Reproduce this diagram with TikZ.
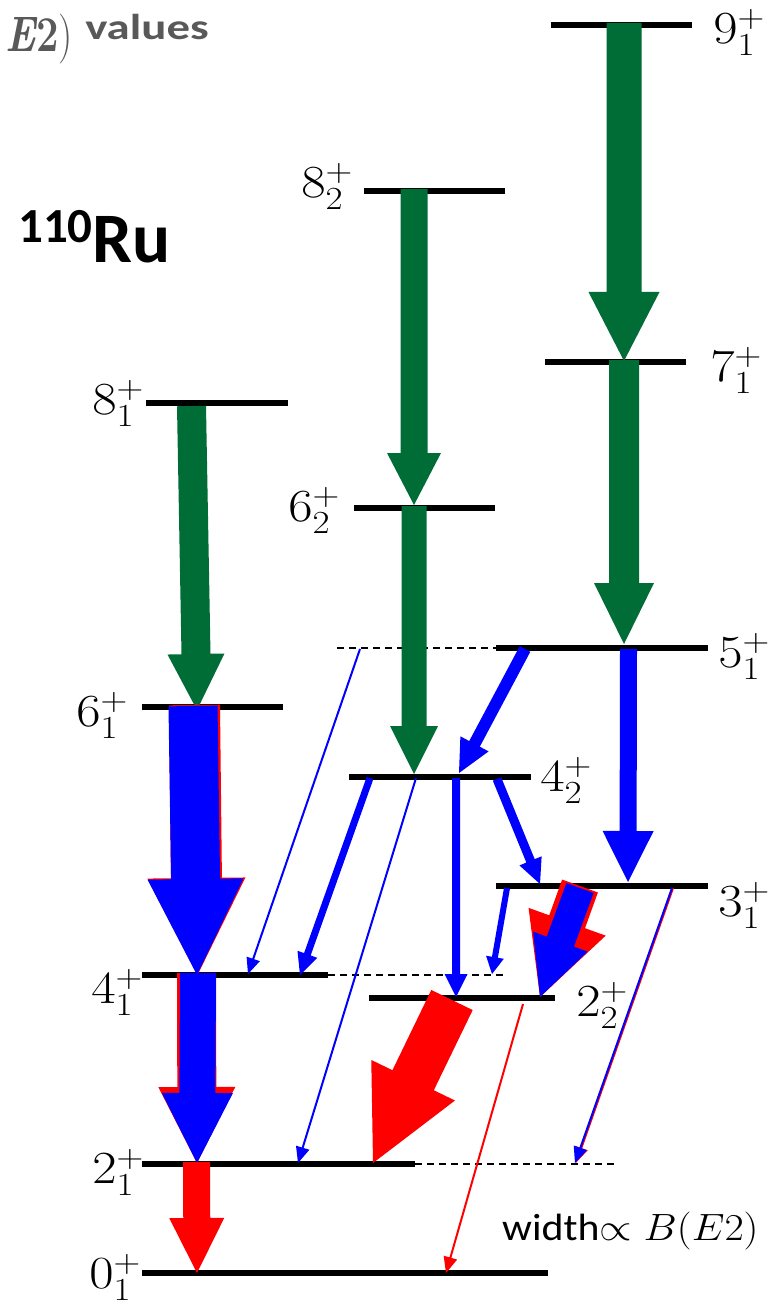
\RequirePackage{fix-cm}
\documentclass[tikz,border=0pt]{standalone}
\usepackage{fontspec}
\newfontfamily\carl{Carlito}
\usetikzlibrary{calc}
\definecolor{dgreen}{RGB}{0,108,54}
\definecolor{tgray}{RGB}{89,89,89}
% #1 colour, #2 start, #3 tip, #4 half shaft width, #5 half head width, #6 head length
\newcommand\fatarr[6]{%
  \coordinate (fam) at ($(#3)!#6pt!(#2)$);
  \fill[#1] ($(#2)!#4pt!90:(#3)$) -- ($(fam)!#4pt!90:(#3)$) -- ($(fam)!#5pt!90:(#3)$) -- (#3)
    -- ($(fam)!#5pt!-90:(#3)$) -- ($(fam)!#4pt!-90:(#3)$) -- ($(#2)!#4pt!-90:(#3)$) -- cycle;}
\begin{document}
\begin{tikzpicture}[x=1pt,y=-1pt,
  lev/.style={line width=5.5pt},
  dsh/.style={line width=1.3pt, dash pattern=on 7pt off 5pt},
  lbl/.style={font=\fontsize{46}{50}\selectfont, inner sep=0pt, xscale=1.15}]
\useasboundingbox (0,0) rectangle (772,1305);
\fill[white] (0,0) rectangle (772,1305);

% level end points
\coordinate (L9a) at (551,25);   \coordinate (L9b) at (692,25);
\coordinate (L7a) at (545,362);  \coordinate (L7b) at (686,362);
\coordinate (L82a) at (364,191); \coordinate (L82b) at (505,191);
\coordinate (L62a) at (354,508); \coordinate (L62b) at (495,508);
\coordinate (L81a) at (146,403); \coordinate (L81b) at (288,403);
\coordinate (L61a) at (142,707); \coordinate (L61b) at (283,707);
\coordinate (L5d) at (337,648);  \coordinate (L5a) at (496,648); \coordinate (L5b) at (708,648);
\coordinate (L42a) at (349,777); \coordinate (L42b) at (531,777);
\coordinate (L3a) at (496,886);  \coordinate (L3b) at (708,886);
\coordinate (L41a) at (142,975); \coordinate (L41b) at (328,975); \coordinate (L41d) at (505,975);
\coordinate (L22a) at (369,998); \coordinate (L22b) at (555,998);
\coordinate (L21a) at (142,1164); \coordinate (L21b) at (415,1164); \coordinate (L21d) at (617,1164);
\coordinate (L0a) at (142,1273); \coordinate (L0b) at (548,1273);

\foreach \l in {9,7,82,62,81,61,5,42,3,41,22,21,0}
  \draw[lev] (L\l a) -- (L\l b);
\draw[dsh] (L5d) -- (L5a);
\draw[dsh] (L41b) -- (L41d);
\draw[dsh] (L21b) -- (L21d);

% arrow end points
\coordinate (g1s) at (624,23);    \coordinate (g1t) at (624,361);
\coordinate (g2s) at (624,360);   \coordinate (g2t) at (624,644);
\coordinate (g3s) at (414,189);   \coordinate (g3t) at (414,505);
\coordinate (g4s) at (414,506);   \coordinate (g4t) at (414,774);
\coordinate (g5s) at (191.5,406); \coordinate (g5t) at (197,710);
\coordinate (r6s) at (194.5,705); \coordinate (r6t) at (197.5,975);
\coordinate (b6s) at (193,706);   \coordinate (b6t) at (197,975);
\coordinate (r7s) at (196.5,973); \coordinate (r7t) at (197,1163);
\coordinate (b7s) at (198,973);   \coordinate (b7t) at (197,1163);
\coordinate (r8s) at (196.5,1162);\coordinate (r8t) at (197,1273);
\coordinate (b9s) at (360,649);   \coordinate (b9t) at (248,974);
\coordinate (b10s) at (370,778);  \coordinate (b10t) at (300,975);
\coordinate (b11s) at (416,778);  \coordinate (b11t) at (298,1163);
\coordinate (b12s) at (456,778);  \coordinate (b12t) at (456,997);
\coordinate (b13s) at (497,779);  \coordinate (b13t) at (540,884);
\coordinate (b14s) at (525,649);  \coordinate (b14t) at (459,773);
\coordinate (b15s) at (628.5,649);\coordinate (b15t) at (628,882);
\coordinate (b16s) at (507,888);  \coordinate (b16t) at (492,974);
\coordinate (r17s) at (452,1000); \coordinate (r17t) at (373,1163);
\coordinate (r18s) at (523,1004); \coordinate (r18t) at (446,1273);
\coordinate (r19s) at (672.8,888);\coordinate (r19t) at (575.8,1163);
\coordinate (b19s) at (672,888);  \coordinate (b19t) at (575,1163);
\coordinate (r20s) at (580,886);  \coordinate (r20t) at (540,997);
\coordinate (b20s) at (580,888);  \coordinate (b20t) at (540,997);

% green E2 arrows
\fatarr{dgreen}{g1s}{g1t}{17.5}{35.5}{69}
\fatarr{dgreen}{g2s}{g2t}{15}{30}{61}
\fatarr{dgreen}{g3s}{g3t}{13.5}{27}{52}
\fatarr{dgreen}{g4s}{g4t}{12.5}{24}{48}
\fatarr{dgreen}{g5s}{g5t}{14.5}{28.5}{56}
% yrast band
\fatarr{red}{r6s}{r6t}{25.5}{49}{97}
\fatarr{blue}{b6s}{b6t}{24.5}{48}{96}
\fatarr{red}{r7s}{r7t}{19.5}{38.5}{76}
\fatarr{blue}{b7s}{b7t}{18}{35.5}{70}
\fatarr{red}{r8s}{r8t}{13.5}{27.5}{55}
% gamma band and interband
\fatarr{blue}{b9s}{b9t}{1}{7}{16}
\fatarr{blue}{b10s}{b10t}{3.5}{10.5}{22}
\fatarr{blue}{b11s}{b11t}{1}{7}{16}
\fatarr{blue}{b12s}{b12t}{4}{11.5}{23}
\fatarr{blue}{b13s}{b13t}{4.5}{12}{25}
\fatarr{blue}{b14s}{b14t}{6}{16}{33}
\fatarr{blue}{b15s}{b15t}{8.5}{25.5}{51}
\fatarr{blue}{b16s}{b16t}{3}{9}{17}
\fatarr{red}{r17s}{r17t}{23}{46.5}{92}
\fatarr{red}{r18s}{r18t}{1}{7}{16}
\fatarr{red}{r19s}{r19t}{1.2}{7}{16}
\fatarr{blue}{b19s}{b19t}{1}{7}{16}
\fatarr{red}{r20s}{r20t}{19}{41}{80}
\fatarr{blue}{b20s}{b20t}{14.5}{29}{59}

% level labels
\node[lbl] (n9)  at (739,32)   {$9_1^+$};
\node[lbl] (n7)  at (736,370)  {$7_1^+$};
\node[lbl] (n82) at (327,186)  {$8_2^+$};
\node[lbl] (n62) at (314,510)  {$6_2^+$};
\node[lbl] (n81) at (118,403)  {$8_1^+$};
\node[lbl] (n61) at (102,715)  {$6_1^+$};
\node[lbl] (n5)  at (744,656)  {$5_1^+$};
\node[lbl] (n42) at (566,780)  {$4_2^+$};
\node[lbl] (n3)  at (744,905)  {$3_1^+$};
\node[lbl] (n41) at (117,992)  {$4_1^+$};
\node[lbl] (n22) at (602,1005) {$2_2^+$};
\node[lbl] (n21) at (118,1172) {$2_1^+$};
\node[lbl] (n0)  at (115,1277) {$0_1^+$};

% texts
\node[anchor=base east, inner sep=0pt, text=tgray, font=\fontsize{50}{56}\selectfont, xscale=0.8] (ttla) at (73,52) {{\bfseries\itshape E}{\bfseries 2})};
\node[anchor=base west, inner sep=0pt, text=tgray, font=\carl\bfseries\fontsize{36}{40}\selectfont, xscale=1.3] (ttlb) at (85,40) {values};
\node[anchor=base west, inner sep=0pt, font=\carl\bfseries\fontsize{71}{80}\selectfont] (ru) at (18,263) {{\fontsize{49}{55}\selectfont\raisebox{20pt}{110}}Ru};
\node[anchor=base west, inner sep=0pt, font=\fontsize{38}{44}\selectfont, xscale=1.1] (wd) at (502,1240) {{\carl width}$\propto B(E2)$};
\end{tikzpicture}
\end{document}
